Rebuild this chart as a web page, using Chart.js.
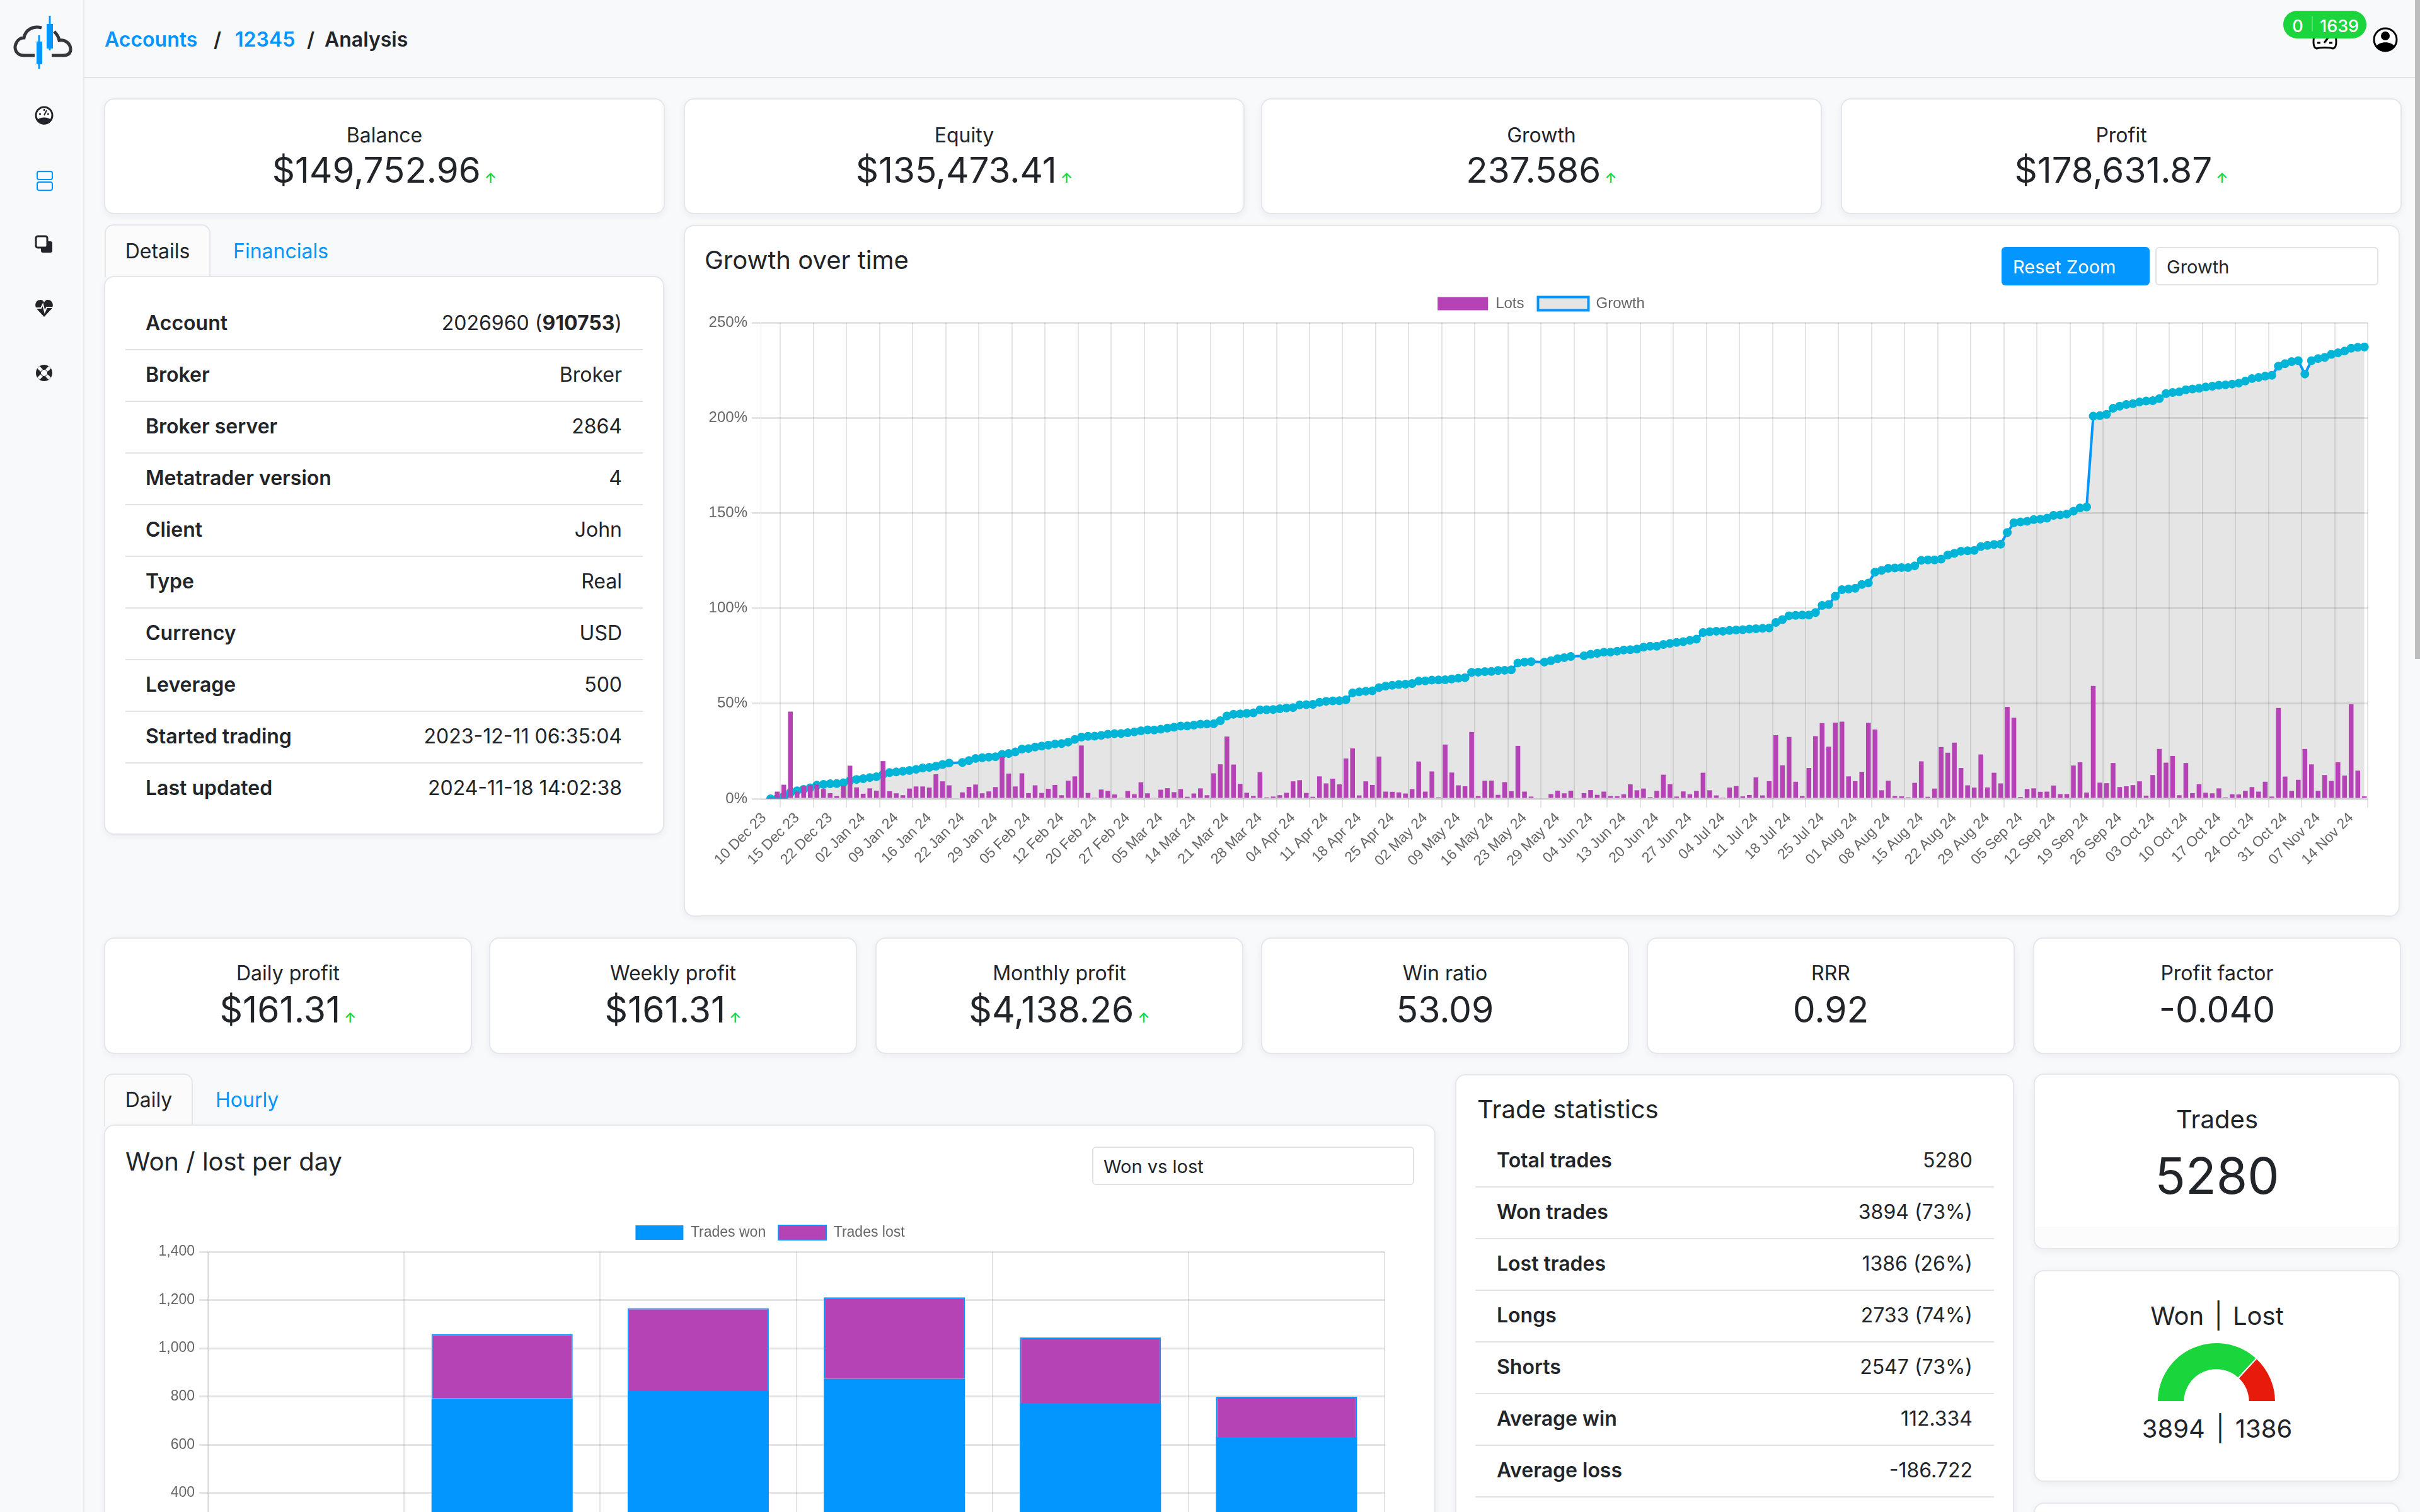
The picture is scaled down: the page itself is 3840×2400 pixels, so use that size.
<!DOCTYPE html>
<html>
<head>
<meta charset="utf-8">
<title>Analysis</title>
<script src="https://cdn.jsdelivr.net/npm/chart.js@4"></script>
<style>
    html, body { margin: 0; padding: 0; width: 3840px; height: 2400px; overflow: hidden; background: #f8f9fb; }
    body { font-family: Inter, "Noto Sans", sans-serif; color: #212529; position: relative; }
    .abs { position: absolute; white-space: nowrap; line-height: 1; }
    .card { position: absolute; box-sizing: border-box; background: #fff; border: 2px solid #e4e7ec; border-radius: 16px; box-shadow: 0 3px 12px rgba(30, 40, 60, .06); }
    .tab { position: absolute; box-sizing: border-box; background: #fbfbfc; border: 2px solid #e4e7ec; border-bottom: 0; border-radius: 14px 14px 0 0; }
    .center { transform: translate(-50%, -50%); }
    .vmid { transform: translateY(-50%); }
    .vright { transform: translate(-100%, -50%); }
    .blue { color: #0496ff; }
    .title { font-size: 32px; }
    .up { font-size: 22px; color: #1ad53b; font-weight: 600; margin-left: 6px; }
    .rule { position: absolute; height: 2px; background: #dfe3e8; }
    .bold { font-weight: 600; }
    canvas { position: absolute; }
    svg { position: absolute; }
</style>
</head>
<body>
<div class="abs" style="left:132px;top:0;width:2px;height:2400px;background:#e6e8ec"></div>
<div class="abs" style="left:132px;top:122px;width:3700px;height:2px;background:#e2e4e9"></div>
<div class="abs" style="left:3832px;top:0;width:8px;height:1046px;background:#bdbdbd"></div>

<svg style="left:20px;top:20px" width="100" height="95" viewBox="0 0 100 95">
    <path d="M35 68 H18 C6 68 2 58 5 50 C8 42 14 40 18 40 C20 28 32 20 46 24 M66 30 C70 34 73 38 74 44 C84 42 92 50 92 58 C92 66 86 68 80 68 H62" fill="none" stroke="#33363b" stroke-width="5"/>
    <path d="M59 5 V60 M42 36 V89" stroke="#0496ff" stroke-width="3"/>
    <rect x="54" y="18" width="10" height="39" fill="#0496ff"/>
    <rect x="38" y="46" width="9" height="36" fill="#0496ff"/>
</svg>
<svg style="left:55px;top:168px" width="30" height="32" viewBox="0 0 30 32">
    <circle cx="15" cy="15" r="13" fill="#fff" stroke="#212529" stroke-width="3"/>
    <path d="M3 23 A 14 14 0 0 0 27 23 C22 17 8 17 3 23Z" fill="#212529"/>
    <path d="M15 15 L19 7 M7 13 H10 M20 13 H23 M15 5 V8" stroke="#212529" stroke-width="2"/>
</svg>
<svg style="left:57px;top:270px" width="28" height="34" viewBox="0 0 28 34">
    <rect x="2" y="2" width="24" height="13" rx="3" fill="none" stroke="#0496ff" stroke-width="2"/>
    <rect x="2" y="19" width="24" height="13" rx="3" fill="none" stroke="#0496ff" stroke-width="2"/>
</svg>
<svg style="left:55px;top:373px" width="30" height="30" viewBox="0 0 30 30">
    <rect x="10" y="10" width="18" height="18" rx="3" fill="#212529"/>
    <rect x="2" y="2" width="18" height="18" rx="3" fill="#fff" stroke="#212529" stroke-width="3"/>
</svg>
<svg style="left:55px;top:474px" width="30" height="30" viewBox="0 0 30 30">
    <path d="M15 29 L3 16 C-2 8 4 1 10 2 C12 2 14 4 15 6 C16 4 18 2 20 2 C26 1 32 8 27 16Z" fill="#212529"/>
    <path d="M2 15 H10 L13 9 L16 21 L19 14 H28" fill="none" stroke="#fff" stroke-width="2"/>
</svg>
<svg style="left:55px;top:577px" width="30" height="30" viewBox="0 0 30 30">
    <circle cx="15" cy="15" r="13" fill="#212529"/>
    <circle cx="15" cy="15" r="5" fill="#fff"/>
    <path d="M6 6 L11 11 M24 6 L19 11 M6 24 L11 19 M24 24 L19 19" stroke="#fff" stroke-width="5"/>
</svg>

<div class="abs vmid blue bold" style="left:166px;top:63px;font-size:32px">Accounts</div>
<div class="abs vmid bold" style="left:339px;top:63px;font-size:32px">/</div>
<div class="abs vmid blue bold" style="left:373px;top:63px;font-size:32px">12345</div>
<div class="abs vmid bold" style="left:487px;top:63px;font-size:32px">/</div>
<div class="abs vmid bold" style="left:515px;top:63px;font-size:32px">Analysis</div>

<svg style="left:3668px;top:50px" width="42" height="30" viewBox="0 0 42 30">
    <path d="M4 6 C2 18 3 26 8 27 C14 25 28 25 34 27 C39 26 40 18 38 6Z" fill="#fff" stroke="#000" stroke-width="3"/>
    <path d="M9 18 H14 M28 18 H33 M20 18 L26 10" stroke="#000" stroke-width="3"/>
</svg>
<div class="abs" style="left:3623px;top:17px;width:132px;height:44px;border-radius:22px;background:#1ad53b"></div>
<div class="abs center" style="left:3646px;top:41px;font-size:27px;font-weight:500;color:#fff">0</div>
<div class="abs" style="left:3668px;top:26px;width:2px;height:24px;background:#57e06f"></div>
<div class="abs center" style="left:3712px;top:41px;font-size:27px;font-weight:500;color:#fff">1639</div>
<svg style="left:3765px;top:43px" width="40" height="40" viewBox="0 0 40 40">
    <circle cx="20" cy="20" r="18" fill="#fff" stroke="#000" stroke-width="3"/>
    <circle cx="20" cy="14" r="7" fill="#000"/>
    <path d="M5 31 C10 22 30 22 35 31 A 19 19 0 0 1 5 31Z" fill="#000"/>
</svg>

<div id="topCards"></div>

<div class="tab" style="left:166px;top:356px;width:168px;height:84px"></div>
<div class="abs center" style="left:250px;top:399px;font-size:32px">Details</div>
<div class="abs vmid blue" style="left:370px;top:399px;font-size:32px">Financials</div>
<div class="card" style="left:165px;top:438px;width:889px;height:887px"></div>
<div id="detailRows"></div>

<div class="card" style="left:1085px;top:357px;width:2723px;height:1098px"></div>
<div class="abs vmid" style="left:1118px;top:413px;font-size:40px">Growth over time</div>
<div class="abs" style="left:3176px;top:392px;width:235px;height:61px;border-radius:6px;background:#0496ff"></div>
<div class="abs vmid" style="left:3194px;top:423px;font-size:29px;color:#fff">Reset Zoom</div>
<div class="abs" style="left:3420px;top:392px;width:354px;height:61px;box-sizing:border-box;border:2px solid #dfe3e8;border-radius:6px;background:#fff"></div>
<div class="abs vmid" style="left:3438px;top:423px;font-size:29px">Growth</div>
<canvas id="growthChart" width="2657" height="960" style="left:1118px;top:448px"></canvas>

<div id="midCards"></div>

<div class="tab" style="left:165px;top:1704px;width:141px;height:84px"></div>
<div class="abs center" style="left:236px;top:1746px;font-size:32px">Daily</div>
<div class="abs vmid blue" style="left:342px;top:1746px;font-size:32px">Hourly</div>
<div class="card" style="left:165px;top:1785px;width:2113px;height:900px"></div>
<div class="abs vmid" style="left:199px;top:1844px;font-size:40px">Won / lost per day</div>
<div class="abs" style="left:1733px;top:1820px;width:511px;height:61px;box-sizing:border-box;border:2px solid #dfe3e8;border-radius:6px;background:#fff"></div>
<div class="abs vmid" style="left:1751px;top:1851px;font-size:29px">Won vs lost</div>
<canvas id="dailyChart" width="1952" height="675" style="left:247px;top:1925px"></canvas>

<div class="card" style="left:2309px;top:1705px;width:887px;height:900px"></div>
<div class="abs vmid" style="left:2344px;top:1761px;font-size:40px">Trade statistics</div>
<div id="statRows"></div>

<div class="card" style="left:3227px;top:1704px;width:581px;height:279px;overflow:hidden">
    <div style="position:absolute;left:0;right:0;bottom:0;height:34px;background:#fcfcfc"></div>
</div>
<div class="abs center" style="left:3518px;top:1777px;font-size:40px">Trades</div>
<div class="abs center" style="left:3518px;top:1866px;font-size:80px">5280</div>

<div class="card" style="left:3227px;top:2016px;width:581px;height:336px"></div>
<div class="abs center" style="left:3518px;top:2089px;font-size:40px;word-spacing:5px">Won | Lost</div>
<canvas id="gaugeChart" width="192" height="96" style="left:3421px;top:2130px"></canvas>
<div class="abs center" style="left:3518px;top:2268px;font-size:40px;word-spacing:6px">3894 | 1386</div>
<div class="card" style="left:3227px;top:2385px;width:581px;height:200px"></div>

<script>
// growth chart, one entry per trading day, null where the reference has no point
const growth = [null,
    0, 0.2, 1.3, 3.3, 4.2, 5.0, 5.8, 7.2, 7.6, 7.9, 8.0, 8.4, 9.6, 10.2, 10.6, 11.2, 11.6, 12.8, 13.8,
    14.1, 14.5, 14.9, 15.5, 16.2, 16.5, 17.1, 18.0, 18.8, null, 19.1, 20.1, 21.2, 21.6, 21.9, 22.1, 23.3, 23.8, 24.6, 26.1,
    26.4, 27.2, 27.7, 28.2, 28.8, 29.0, 29.8, 31.2, 32.4, 32.8, 32.9, 33.3, 33.9, 34.2, 34.3, 34.7, 35.1, 35.7, 36.2, 36.1,
    36.5, 37.1, 37.6, 38.2, 38.3, 38.7, 39.2, 39.3, 39.4, 41.0, 43.5, 44.4, 44.6, 44.9, 45.1, 46.7, 46.8, 46.9, 47.3, 47.7,
    47.9, 49.3, 49.4, 49.6, 50.7, 51.2, 51.4, 51.5, 52.0, 55.6, 56.1, 56.5, 56.7, 58.4, 59.2, 59.6, 60.0, 60.2, 60.5, 61.8,
    61.9, 62.3, 62.4, 62.5, 62.9, 63.3, 63.6, 66.4, 66.5, 66.8, 66.9, 67.4, 67.5, 67.7, 71.3, 71.8, 72.0, null, 71.8, 72.5,
    73.6, 74.1, 74.7, null, 75.1, 75.9, 76.4, 77.0, 77.0, 77.5, 78.1, 78.3, 78.6, 79.6, 80.1, 80.1, 81.0, 81.6, 82.1, 82.5,
    83.2, 83.8, 87.3, 87.7, 88.0, 88.0, 88.4, 88.6, 88.8, 89.1, 89.3, 89.5, 89.7, 92.6, 94.1, 96.1, 96.3, 96.5, 96.5, 97.8,
    101.5, 102.0, 106.3, 109.8, 110.1, 110.5, 112.5, 113.3, 119.0, 119.9, 121.0, 121.2, 121.4, 121.4, 122.3, 125.2, 125.4, 125.4, 125.8, 128.0,
    128.9, 130.0, 130.2, 130.4, 132.4, 133.0, 133.5, 133.7, 139.8, 144.9, 145.3, 145.7, 146.6, 146.8, 147.3, 148.8, 149.0, 149.5, 151.0, 152.7,
    153.2, 200.9, 201.1, 201.8, 205.0, 206.1, 207.0, 207.4, 208.3, 208.8, 209.0, 210.1, 212.7, 213.3, 213.6, 214.7, 215.1, 215.5, 216.2, 216.6,
    217.1, 217.3, 217.7, 218.2, 219.3, 220.6, 221.2, 221.9, 222.3, 227.1, 228.4, 229.5, 230.0, 223.0, 230.0, 231.1, 231.7, 233.3, 234.1, 235.0,
    236.5, 237.0, 237.2];

const lots = [null,
    0.8, 3.8, 7.4, 45.8, 3.8, 6.6, 7.1, 7.7, 5.2, 3.0, 1.5, 6.9, 17.4, 6.0, 2.7, 5.5, 4.3, 19.8, 4.0,
    2.9, 1.9, 5.4, 6.5, 6.5, 5.9, 12.9, 9.2, 7.1, 0, 3.4, 6.3, 7.5, 2.9, 3.9, 6.2, 22.1, 13.3, 6.5, 13.4,
    3.0, 7.1, 3.1, 5.3, 7.3, 1.9, 9.5, 11.8, 28.0, 3.1, 0.3, 4.9, 4.2, 2.3, 0.6, 4.1, 2.4, 8.7, 2.9, 0.4,
    4.8, 5.6, 3.5, 5.1, 1.1, 2.8, 5.5, 1.9, 13.4, 18.1, 32.7, 18.0, 7.9, 3.2, 1.5, 14.0, 0.8, 1.2, 1.9, 3.2,
    9.2, 9.8, 3.1, 1.1, 11.8, 8.1, 10.6, 7.6, 21.2, 26.5, 1.8, 9.2, 7.3, 22.2, 3.8, 3.7, 3.4, 2.8, 5.1, 19.6,
    3.8, 14.4, 0.8, 28.5, 13.8, 7.1, 6.6, 35.1, 1.5, 9.5, 9.6, 2.1, 8.8, 4.0, 27.8, 3.8, 1.2, 0, 0, 2.5,
    4.3, 2.9, 4.3, 0, 3.0, 4.6, 2.1, 3.8, 1.5, 1.4, 2.4, 7.6, 4.5, 5.4, 0.9, 4.2, 12.7, 7.7, 1.2, 3.9,
    2.4, 4.2, 13.7, 4.5, 1.8, 0.3, 5.9, 6.7, 1.3, 2.0, 11.3, 1.8, 9.3, 33.4, 17.6, 32.5, 9.0, 1.5, 16.2, 32.9,
    39.8, 27.4, 40.0, 40.5, 11.8, 9.3, 14.2, 39.9, 36.4, 4.5, 9.5, 1.5, 1.3, 0.8, 8.4, 19.7, 1.1, 5.4, 27.2, 24.2,
    29.5, 16.2, 7.1, 5.9, 23.3, 6.0, 13.7, 8.1, 48.3, 42.6, 1.0, 5.2, 5.5, 3.7, 3.8, 7.0, 2.5, 2.5, 17.5, 19.2,
    3.3, 59.3, 8.5, 8.2, 18.8, 6.2, 6.6, 7.2, 9.2, 1.7, 12.5, 26.2, 19.0, 22.5, 1.9, 18.8, 3.0, 7.7, 3.2, 2.9,
    5.5, 0.8, 2.4, 2.3, 4.2, 6.2, 3.8, 9.0, 1.2, 47.7, 11.7, 4.2, 10.0, 26.2, 18.1, 4.2, 12.5, 9.4, 19.2, 12.2,
    49.7, 14.8, 1.3];

// every fifth trading day carries a label
const tickLabels = ['10 Dec 23', '15 Dec 23', '22 Dec 23', '02 Jan 24', '09 Jan 24', '16 Jan 24', '22 Jan 24', '29 Jan 24',
    '05 Feb 24', '12 Feb 24', '20 Feb 24', '27 Feb 24', '05 Mar 24', '14 Mar 24', '21 Mar 24', '28 Mar 24', '04 Apr 24',
    '11 Apr 24', '18 Apr 24', '25 Apr 24', '02 May 24', '09 May 24', '16 May 24', '23 May 24', '29 May 24', '04 Jun 24',
    '13 Jun 24', '20 Jun 24', '27 Jun 24', '04 Jul 24', '11 Jul 24', '18 Jul 24', '25 Jul 24', '01 Aug 24', '08 Aug 24',
    '15 Aug 24', '22 Aug 24', '29 Aug 24', '05 Sep 24', '12 Sep 24', '19 Sep 24', '26 Sep 24', '03 Oct 24', '10 Oct 24',
    '17 Oct 24', '24 Oct 24', '31 Oct 24', '07 Nov 24', '14 Nov 24'];

// won / lost per day
const days = ['Sun', 'Mon', 'Tue', 'Wed', 'Thu', 'Fri'];
const tradesWon = [0, 793, 823, 873, 773, 632];
const tradesLost = [0, 266, 343, 338, 272, 167];

// gauge
const wonLost = [3894, 1386];

// page text
const topCards = [['Balance', '$149,752.96', true], ['Equity', '$135,473.41', true], ['Growth', '237.586', true], ['Profit', '$178,631.87', true]];
const midCards = [['Daily profit', '$161.31', true], ['Weekly profit', '$161.31', true], ['Monthly profit', '$4,138.26', true],
    ['Win ratio', '53.09', false], ['RRR', '0.92', false], ['Profit factor', '-0.040', false]];
const details = [['Account', '2026960 (<b>910753</b>)'], ['Broker', 'Broker'], ['Broker server', '2864'], ['Metatrader version', '4'],
    ['Client', 'John'], ['Type', 'Real'], ['Currency', 'USD'], ['Leverage', '500'], ['Started trading', '2023-12-11 06:35:04'],
    ['Last updated', '2024-11-18 14:02:38']];
const stats = [['Total trades', '5280'], ['Won trades', '3894 (73%)'], ['Lost trades', '1386 (26%)'], ['Longs', '2733 (74%)'],
    ['Shorts', '2547 (73%)'], ['Average win', '112.334'], ['Average loss', '-186.722']];

function buildCards(id, items, lefts, width, top, height, titleY, valueY, valueSize) {
    let html = '';
    items.forEach((item, i) => {
        const cx = lefts[i] + width / 2;
        html += `<div class="card" style="left:${lefts[i]}px;top:${top}px;width:${width}px;height:${height}px"></div>
            <div class="abs center title" style="left:${cx}px;top:${titleY}px">${item[0]}</div>
            <div class="abs center" style="left:${cx}px;top:${valueY}px;font-size:${valueSize}px">${item[1]}${item[2] ? '<span class="up">↑</span>' : ''}</div>`;
    });
    document.getElementById(id).innerHTML = html;
}

function buildRows(id, rows, labelX, valueX, ruleX, ruleW, firstY, rowH) {
    let html = '';
    rows.forEach((row, i) => {
        const y = firstY + i * rowH;
        html += `<div class="abs vmid bold" style="left:${labelX}px;top:${y}px;font-size:32px">${row[0]}</div>
            <div class="abs vright" style="left:${valueX}px;top:${y}px;font-size:32px">${row[1]}</div>`;
        if (id === 'statRows' || i < rows.length - 1) {
            html += `<div class="rule" style="left:${ruleX}px;top:${y + 41}px;width:${ruleW}px"></div>`;
        }
    });
    document.getElementById(id).innerHTML = html;
}

buildCards('topCards', topCards, [165, 1085, 2001, 2921], 890, 156, 184, 215, 270, 56.5);
buildCards('midCards', midCards, [165, 776, 1389, 2001, 2613, 3226], 584, 1488, 185, 1545, 1602, 57);
buildRows('detailRows', details, 231, 987, 199, 821, 513, 82);
buildRows('statRows', stats, 2375, 3130, 2341, 823, 1842, 82);

Chart.defaults.font.family = '"Liberation Sans", Arial, sans-serif';
Chart.defaults.font.size = 24;
Chart.defaults.color = '#666';
Chart.defaults.animation = false;
Chart.defaults.responsive = false;
Chart.defaults.devicePixelRatio = 1;

// extra room between the legend and the plot, and a sideways nudge of the legend
function legendGap(extra, shift) {
    return {
        id: 'legendGap',
        beforeInit(chart) {
            const fit = chart.legend.fit;
            chart.legend.fit = function () {
                fit.call(this);
                this.height += extra;
            };
        },
        afterLayout(chart) {
            chart.legend.left += shift;
            chart.legend.right += shift;
        }
    };
}

new Chart(document.getElementById('growthChart'), {
    data: {
        labels: lots.map((v, i) => i % 5 === 0 ? tickLabels[i / 5] : ''),
        datasets: [{
            type: 'bar',
            label: 'Lots',
            data: lots,
            backgroundColor: '#b543b5'
        }, {
            type: 'line',
            label: 'Growth',
            data: growth,
            spanGaps: true,
            fill: true,
            backgroundColor: 'rgba(0,0,0,0.1)',
            borderColor: '#0496ff',
            borderWidth: 4,
            pointRadius: 6,
            pointBorderWidth: 2,
            pointBackgroundColor: '#00b4d8',
            pointBorderColor: '#00b4d8'
        }]
    },
    plugins: [legendGap(8, 8)],
    options: {
        layout: { padding: { top: 0, right: 18 } },
        plugins: {
            tooltip: { enabled: false },
            legend: { labels: { boxWidth: 80, boxHeight: 21, padding: 22 } }
        },
        scales: {
            x: {
                afterBuildTicks: s => { s.ticks = s.ticks.filter(t => t.value % 5 === 0); },
                afterFit: s => { s.height = 140; },
                ticks: { autoSkip: false, minRotation: 45, maxRotation: 45, font: { size: 23 } },
                grid: { lineWidth: 2, tickLength: 14 }
            },
            y: {
                min: 0,
                max: 250,
                afterFit: s => { s.width = 89; },
                ticks: { stepSize: 50, padding: 7, callback: v => v + '%' },
                grid: { lineWidth: 3, tickLength: 14 }
            }
        }
    }
});

new Chart(document.getElementById('dailyChart'), {
    type: 'bar',
    data: {
        labels: days,
        datasets: [{
            label: 'Trades won',
            data: tradesWon,
            backgroundColor: '#0496ff'
        }, {
            label: 'Trades lost',
            data: tradesLost,
            backgroundColor: '#b543b5',
            borderColor: '#0496ff',
            borderWidth: 2
        }]
    },
    plugins: [legendGap(9, 0)],
    options: {
        layout: { padding: { right: 2 } },
        plugins: {
            tooltip: { enabled: false },
            legend: { labels: { boxWidth: 76, boxHeight: 23, padding: 20, font: { size: 23 } } }
        },
        scales: {
            x: {
                stacked: true,
                afterFit: s => { s.height = 77; },
                grid: { lineWidth: 2, tickLength: 14 }
            },
            y: {
                stacked: true,
                min: 0,
                max: 1400,
                afterFit: s => { s.width = 83; },
                ticks: { stepSize: 200, padding: 7, font: { size: 23 } },
                grid: { lineWidth: 3, tickLength: 14 }
            }
        }
    }
});

new Chart(document.getElementById('gaugeChart'), {
    type: 'doughnut',
    data: {
        labels: ['Won', 'Lost'],
        datasets: [{
            data: wonLost,
            backgroundColor: ['#1ad53b', '#e61b0c'],
            borderColor: '#fff',
            borderWidth: 2
        }]
    },
    options: {
        rotation: -90,
        circumference: 180,
        cutout: '54%',
        plugins: { legend: { display: false }, tooltip: { enabled: false } }
    }
});
</script>
</body>
</html>
